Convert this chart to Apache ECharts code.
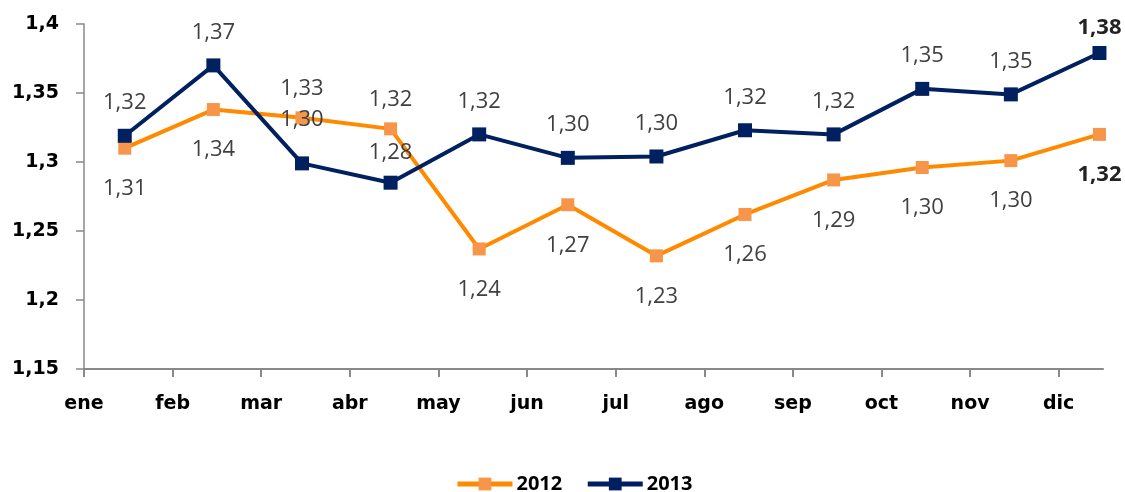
<!DOCTYPE html>
<html>
<head>
<meta charset="utf-8">
<script src="https://cdn.jsdelivr.net/npm/echarts@6/dist/echarts.min.js"></script>
<style>
html,body{margin:0;padding:0;background:#fff;}
#chart{width:1125px;height:492px;}
</style>
</head>
<body>
<div id="chart"></div>
<script>
const months = ['ene','feb','mar','abr','may','jun','jul','ago','sep','oct','nov','dic'];
const values2012 = [1.310, 1.338, 1.332, 1.324, 1.237, 1.269, 1.232, 1.262, 1.287, 1.296, 1.301, 1.320];
const values2013 = [1.319, 1.370, 1.299, 1.285, 1.320, 1.303, 1.304, 1.323, 1.320, 1.353, 1.349, 1.379];
const yTicks = [1.15, 1.2, 1.25, 1.3, 1.35, 1.4];

// styling (label placement per point)
const pos2012 = ['bottom','bottom','top','top','bottom','bottom','bottom','bottom','bottom','bottom','bottom','bottom'];
const dist2012 = pos2012.map(p => p === 'top' ? 12 : 23);
const dist2013 = [15,15,26,12,15,15,15,15,15,15,15,7];
const boldLabel = [false,false,false,false,false,false,false,false,false,false,false,true];
const pointOffset = 0.46;

const fmt = v => v.toFixed(2).replace('.', ',');

function build(values, positions, dists) {
  return values.map((v, i) => ({
    value: [i + pointOffset, v],
    label: {
      position: positions[i],
      distance: dists[i],
      fontWeight: boldLabel[i] ? 'bold' : 'normal',
      color: boldLabel[i] ? '#222' : '#404040'
    }
  }));
}

const chart = echarts.init(document.getElementById('chart'), null, {renderer: 'canvas'});
const labelBase = {
  show: true,
  fontFamily: 'Open Sans',
  fontSize: 22,
  color: '#404040',
  formatter: p => fmt(p.value[1])
};
chart.setOption({
  animation: false,
  backgroundColor: '#fff',
  grid: {left: 84, right: 22, top: 24, bottom: 123, containLabel: false},
  xAxis: {
    type: 'value',
    min: 0,
    max: 11.5,
    interval: 1,
    splitLine: {show: false},
    axisLine: {lineStyle: {color: '#898989', width: 2}},
    axisTick: {show: true, length: 8, lineStyle: {color: '#898989', width: 2}, customValues: months.map((m, i) => i)},
    axisLabel: {
      customValues: months.map((m, i) => i),
      formatter: v => months[Math.round(v)] || '',
      fontFamily: 'DejaVu Sans',
      fontWeight: 'bold',
      fontSize: 19,
      color: '#000',
      margin: 26
    }
  },
  yAxis: {
    type: 'value',
    min: 1.15,
    max: 1.4,
    interval: 0.05,
    splitLine: {show: false},
    axisLine: {show: true, lineStyle: {color: '#898989', width: 1.5}},
    axisTick: {show: true, length: 8, lineStyle: {color: '#898989', width: 1.5}},
    axisLabel: {
      customValues: yTicks,
      formatter: v => String(+v.toFixed(2)).replace('.', ','),
      fontFamily: 'DejaVu Sans',
      fontWeight: 'bold',
      fontSize: 19,
      color: '#000',
      margin: 25
    }
  },
  legend: {
    top: 469,
    left: 450,
    padding: 5,
    itemWidth: 55,
    itemHeight: 16,
    itemGap: 23,
    lineStyle: {width: 5},
    textStyle: {fontFamily: 'Open Sans', fontWeight: 'bold', fontSize: 20, color: '#000', padding: [0,0,0,-1]},
    data: ['2012', '2013']
  },
  series: [
    {
      name: '2012',
      type: 'line',
      data: build(values2012, pos2012, dist2012),
      symbol: 'rect',
      symbolSize: 13,
      lineStyle: {color: '#FF8A00', width: 4},
      itemStyle: {color: '#F7964A'},
      label: labelBase,
      z: 2
    },
    {
      name: '2013',
      type: 'line',
      data: build(values2013, values2013.map(() => 'top'), dist2013),
      symbol: 'rect',
      symbolSize: 14,
      lineStyle: {color: '#002060', width: 4},
      itemStyle: {color: '#002060'},
      label: labelBase,
      z: 3
    }
  ]
});
</script>
</body>
</html>
